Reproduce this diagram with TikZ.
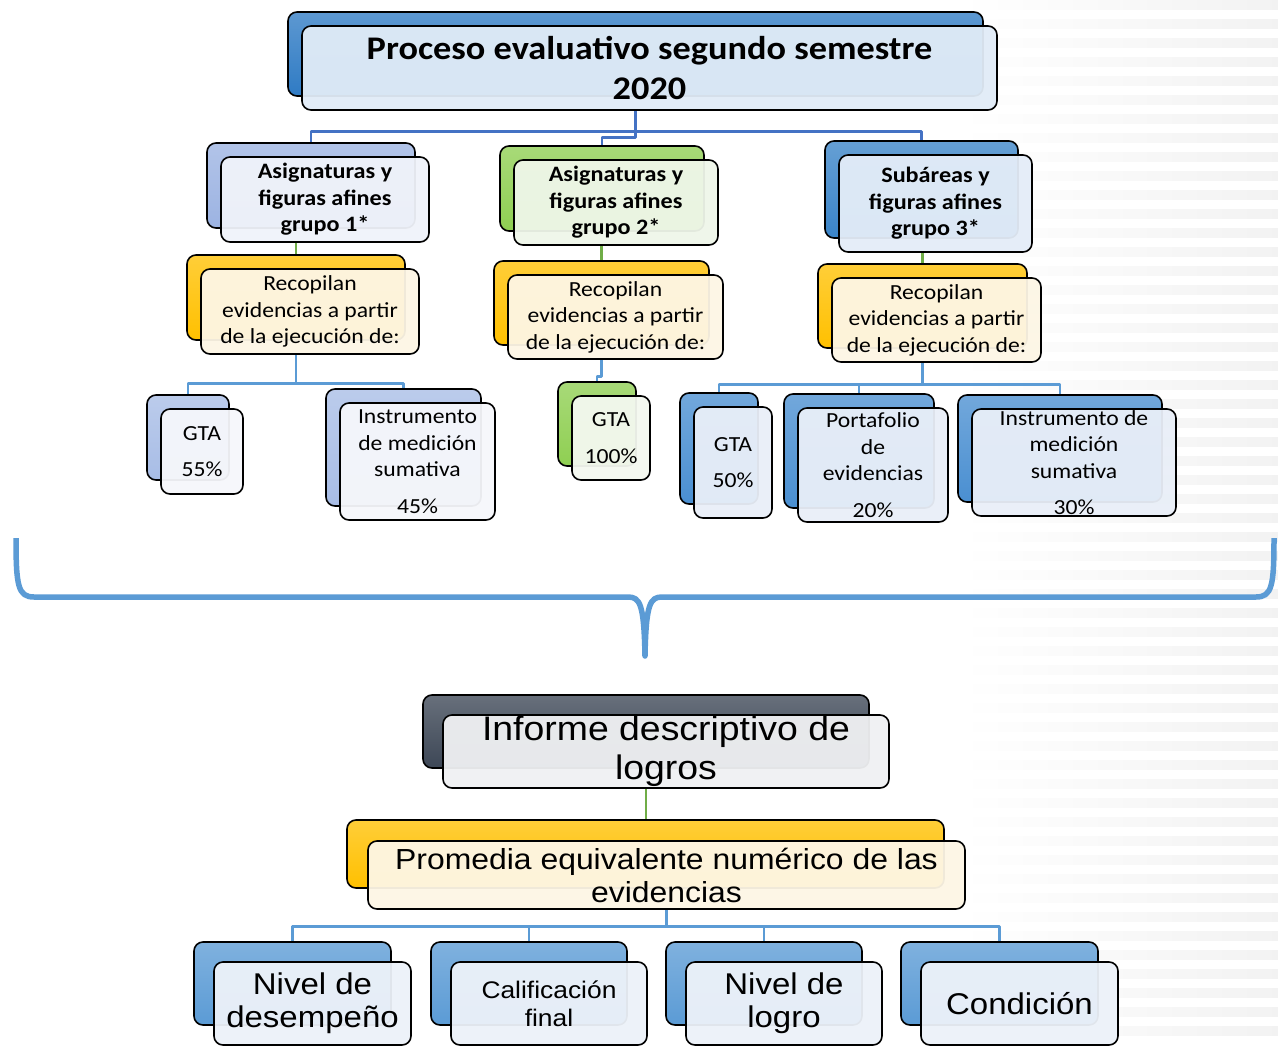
\documentclass[tikz,border=0pt]{standalone}
\usepackage{fontspec}
\newfontfamily\calfnt[FakeStretch=1.1]{Carlito}
\newfontfamily\arifnt[FakeStretch=1.1]{Liberation Sans}
\usetikzlibrary{calc}
\pgfdeclarelayer{bgstripes}
\pgfdeclarelayer{bglines}
\pgfsetlayers{bgstripes,bglines,main}
\definecolor{tB}{HTML}{2F7BC4}
\definecolor{tF}{HTML}{E1ECF7}
\definecolor{gaB}{HTML}{9CB3E2}
\definecolor{gaF}{HTML}{F0F3FA}
\definecolor{gbB}{HTML}{8FCF52}
\definecolor{gbF}{HTML}{EFF6E9}
\definecolor{gcB}{HTML}{3A84C8}
\definecolor{gcF}{HTML}{E4EDF8}
\definecolor{yB}{HTML}{FFC000}
\definecolor{yF}{HTML}{FDF6E5}
\definecolor{laB}{HTML}{A8BDE6}
\definecolor{laF}{HTML}{F6F7FB}
\definecolor{lbF}{HTML}{F4F8F0}
\definecolor{lcB}{HTML}{4A8FD1}
\definecolor{lcF}{HTML}{E9EFF8}
\definecolor{dB}{HTML}{3D4756}
\definecolor{dF}{HTML}{F0F1F3}
\definecolor{bB}{HTML}{5B9BD5}
\definecolor{bF}{HTML}{EDF2F9}
\definecolor{lnl}{HTML}{5B9BD5}
\definecolor{lnd}{HTML}{4472C4}
\definecolor{lng}{HTML}{70AD47}
\tikzset{
  bk/.style={top color=#1!78!white, bottom color=#1, draw=black, line width=1.6pt, rounded corners=9pt, inner sep=0pt},
  fr/.style={fill=#1, fill opacity=0.95, text opacity=1, draw=black, line width=1.6pt, rounded corners=9pt, inner sep=0pt, align=center, text=black},
  ftitle/.style={font=\calfnt\bfseries\fontsize{33}{40}\selectfont},
  fgrp/.style={font=\calfnt\bfseries\fontsize{22}{26.5}\selectfont},
  fsm/.style={font=\calfnt\fontsize{21.5}{26.5}\selectfont},
  fbig/.style={font=\arifnt\fontsize{34}{39}\selectfont},
  fmid/.style={font=\arifnt\fontsize{29}{33}\selectfont},
  fbot/.style={font=\arifnt\fontsize{30}{33}\selectfont},
  fcal/.style={font=\arifnt\fontsize{24}{28}\selectfont},
  cl/.style={line width=2.8pt, line join=round},
}
\newcommand\dblbox[9]{%
  \pgfmathsetmacro\bw{#6-#4}\pgfmathsetmacro\bh{#7-#5}%
  \pgfmathsetmacro\cx{(#4+#6)/2}\pgfmathsetmacro\cy{(#5+#7)/2}%
  \node[bk=#2, minimum width=\bw pt, minimum height=\bh pt] (#1B) at (\cx-\doff,\cy-\doff) {};
  \node[fr=#3, minimum width=\bw pt, minimum height=\bh pt, #8] (#1) at (\cx,\cy) {#9};
}
\begin{document}
\begin{tikzpicture}[x=1pt,y=-1pt]
\useasboundingbox (0,0) rectangle (1278,1047);
\begin{pgfonlayer}{bgstripes}
  \fill[white] (0,0) rectangle (1278,1047);
  \foreach \yy in {0,19,...,1040}
    \shade[left color=white, right color=black!5] (960,\yy) rectangle (1278,\yy+9);
\end{pgfonlayer}

\def\doff{14}
\dblbox{title}{tB}{tF}{302}{26}{997}{110}{ftitle}{Proceso evaluativo segundo semestre\\2020}
\dblbox{ga}{gaB}{gaF}{221}{157}{429}{242}{fgrp}{Asignaturas y\\figuras afines\\grupo 1*}
\dblbox{gb}{gbB}{gbF}{514}{160}{718}{245}{fgrp}{Asignaturas y\\figuras afines\\grupo 2*}
\dblbox{gc}{gcB}{gcF}{839}{155}{1032}{252}{fgrp}{Subáreas y\\figuras afines\\grupo 3*}
\dblbox{ra}{yB}{yF}{201}{269}{419}{354}{fsm}{Recopilan\\evidencias a partir\\de la ejecución de:}
\dblbox{rb}{yB}{yF}{508}{275}{723}{359}{fsm}{Recopilan\\evidencias a partir\\de la ejecución de:}
\dblbox{rc}{yB}{yF}{832}{278}{1041}{362}{fsm}{Recopilan\\evidencias a partir\\de la ejecución de:}
\dblbox{aa}{laB}{laF}{161}{409}{243}{494}{fsm}{GTA\\[10pt]55\%}
\dblbox{ab}{laB}{laF}{340}{403}{495}{520}{fsm}{Instrumento\\de medición\\sumativa\\[10pt]45\%}
\dblbox{ba}{gbB}{lbF}{572}{396}{650}{480}{fsm}{GTA\\[10pt]100\%}
\dblbox{ca}{lcB}{lcF}{694}{407}{772}{518}{fsm}{GTA\\[10pt]50\%}
\dblbox{cb}{lcB}{lcF}{798}{408}{948}{522}{fsm}{Portafolio\\de\\evidencias\\[10pt]20\%}
\dblbox{cc}{lcB}{lcF}{972}{409}{1176}{516}{fsm}{Instrumento de\\medición\\sumativa\\[10pt]30\%}

\def\doff{20}
\dblbox{inf}{dB}{dF}{443}{715}{889}{788}{fbig}{Informe descriptivo de\\logros}
\def\doff{21}
\dblbox{prom}{yB}{yF}{368}{841}{965}{909}{fmid}{Promedia equivalente numérico de las\\evidencias}
\def\doff{20}
\dblbox{na}{bB}{bF}{214}{962}{411}{1045}{fbot}{Nivel de\\desempeño}
\dblbox{nb}{bB}{bF}{451}{962}{647}{1045}{fcal}{Calificación\\final}
\dblbox{nc}{bB}{bF}{686}{962}{882}{1045}{fbot}{Nivel de\\logro}
\dblbox{nd}{bB}{bF}{921}{962}{1118}{1045}{fbot}{Condición}

\begin{pgfonlayer}{bglines}
  \draw[cl, lnd] (titleB.south |- title.south) -- ++(0,21) -| (gaB.north);
  \draw[cl, lnd] (titleB.south |- title.south) -- ++(0,21) -| (gcB.north);
  \draw[cl, lnd] (titleB.south |- title.south) -- ++(0,27) -| (gbB.north);
  \draw[cl, lng] (raB.north |- ga.south) -- (raB.north);
  \draw[cl, lng] (rbB.north |- gb.south) -- (rbB.north);
  \draw[cl, lng] (rcB.north |- gc.south) -- (rcB.north);
  \draw[cl, lnl] (raB.north |- ra.south) -- ++(0,29) -| (aaB.north);
  \draw[cl, lnl] (raB.north |- ra.south) -- ++(0,29) -| (abB.north);
  \draw[cl, lnl] (rbB.north |- rb.south) -- ++(0,17) -| (baB.north);
  \draw[cl, lnl] (rcB.north |- rc.south) -- ++(0,22) -| (caB.north);
  \draw[cl, lnl] (rcB.north |- rc.south) -- ++(0,22) -| (cbB.north);
  \draw[cl, lnl] (rcB.north |- rc.south) -- ++(0,22) -| (ccB.north);
  \draw[cl, lng] (infB.south |- inf.south) -- (infB.south |- promB.north);
  \draw[cl, lnl] (prom.south) -- ++(0,17) -| (naB.north);
  \draw[cl, lnl] (prom.south) -- ++(0,17) -| (nbB.north);
  \draw[cl, lnl] (prom.south) -- ++(0,17) -| (ncB.north);
  \draw[cl, lnl] (prom.south) -- ++(0,17) -| (ndB.north);
\end{pgfonlayer}

% brace
\draw[lnl, line width=5.5pt, line join=round]
  (16,538) .. controls (16,586) and (18,597) .. (34,597) -- (628,597)
  .. controls (640,597) and (644,604) .. (645,656)
  .. controls (646,604) and (650,597) .. (662,597) -- (1256,597)
  .. controls (1272,597) and (1274,586) .. (1274,538);
\end{tikzpicture}
\end{document}
